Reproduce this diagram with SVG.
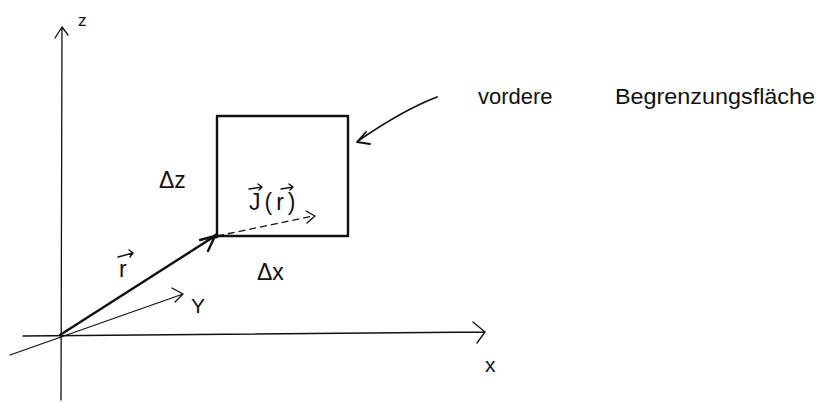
<svg xmlns="http://www.w3.org/2000/svg" width="822" height="403" viewBox="0 0 822 403">
<style>
.ax{fill:none;stroke:#111;stroke-width:1.3;stroke-linecap:round;stroke-linejoin:round}
.th{fill:none;stroke:#111;stroke-width:2.4;stroke-linecap:round;stroke-linejoin:round}
.dash{fill:none;stroke:#111;stroke-width:1.3;stroke-dasharray:7 4}
.t{font-family:"Liberation Sans",Arial,sans-serif;fill:#111}
.vec{fill:none;stroke:#111;stroke-width:1.4;stroke-linecap:round;stroke-linejoin:round}
</style>
<rect width="822" height="403" fill="#fff"/>
<g id="connectors">
  <path class="ax" d="M61,400 L62,27 M55,38 L62,27 L68,35"/>
  <path class="ax" d="M23,336 L485,332 M473,322 L485,332 L477,343"/>
  <path class="ax" d="M10,355 L183,294 M172,288 L183,294 L175,302"/>
  <path class="th" d="M60,335 L215,236 M200,240 L215,236 L208,251"/>
  <path class="dash" d="M217,236 L313,216"/>
  <path class="ax" d="M306,211 L315,216 L307,223"/>
  <path class="th" d="M437,97 Q403,110 358,141 M357,142 L366,132 M357,142 L370,144" style="stroke-width:1.8"/>
</g>
<g id="face">
  <rect x="217" y="116" width="131" height="120" class="th"/>
  <circle cx="216" cy="236" r="2.5" fill="#111"/>
</g>
<g id="labels">
  <text class="t" x="78" y="26" font-size="17">z</text>
  <text class="t" x="159" y="188" font-size="23">Δz</text>
  <text class="t" x="257" y="280" font-size="23">Δx</text>
  <text class="t" x="191" y="313" font-size="21">Y</text>
  <text class="t" x="485" y="372" font-size="21">x</text>
  <text class="t" x="119" y="277" font-size="23">r</text>
  <path class="vec" d="M118,257 L133,253 M129,250 L133,253 L130,257"/>
  <text class="t" x="249" y="210" font-size="23" letter-spacing="4">J(r)</text>
  <path class="vec" d="M249,189 L262,187 M258,184 L262,187 L259,190"/>
  <path class="vec" d="M281,189 L293,187 M289,184 L293,187 L290,190"/>
  <text class="t" x="478" y="104" font-size="22">vordere</text>
  <text class="t" x="615" y="104" font-size="22" textLength="200" lengthAdjust="spacingAndGlyphs">Begrenzungsfläche</text>
</g>
</svg>
